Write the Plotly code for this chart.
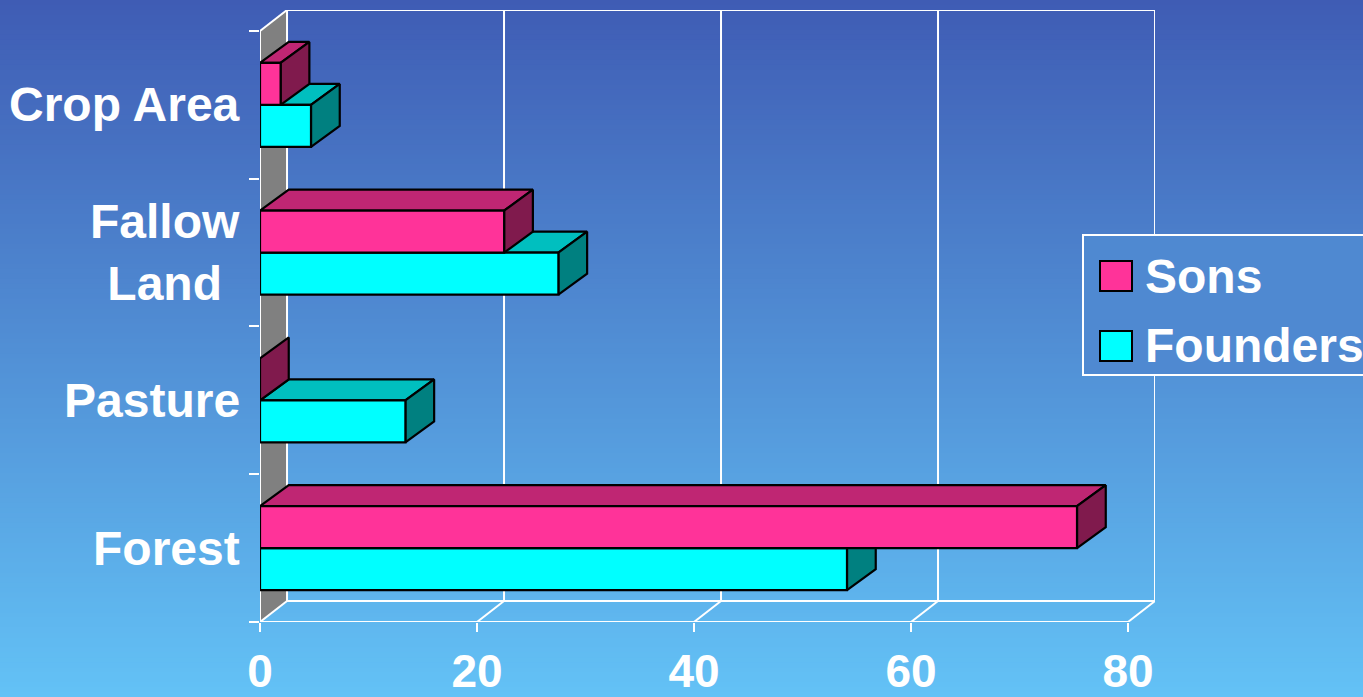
import plotly.graph_objects as go

# ---------------- data ----------------
categories = ["Crop Area", "Fallow<br>Land", "Pasture", "Forest"]   # top -> bottom
sons = [1.9, 22.5, 0.0, 75.3]
founders = [4.7, 27.5, 13.4, 54.1]
x_ticks = [0, 20, 40, 60, 80]
x_tick_labels = ["0", "20", "40", "60", "80"]
series_names = ["Sons", "Founders"]

# ---------------- geometry / style ----------------
W, H = 1363, 697
FONT = "Liberation Sans, Arial, sans-serif"
FS = 48
FS_TICK = 46
X_MAX = 80
WALL_DX = 2.49      # depth offset (x units) of the back wall
DEPTH_DY = 0.142    # depth offset (y units)
BAR_DX = 2.65       # depth offset of bars (x units)
BAR_H = 0.284       # bar thickness (y units)
n = len(categories)
x_range = [0, X_MAX + WALL_DX]
y_range = [0, n + DEPTH_DY]
PX_X0, PX_X80 = 260, 1128
ppu_x = (PX_X80 - PX_X0) / X_MAX
PX_YB, PX_YT = 622, 10
dom_x = [PX_X0 / W, (PX_X0 + x_range[1] * ppu_x) / W]
dom_y = [(H - PX_YB) / H, (H - PX_YT) / H]

SONS_C = dict(front="#FF3399", top="#BF2673", side="#801A4D")
FOUND_C = dict(front="#00FFFF", top="#00BFBF", side="#008080")
TOP_RGB = (63, 92, 180)
BOT_RGB = (99, 194, 246)


def grad(t):
    return "rgb(%d,%d,%d)" % tuple(round(a + (b - a) * t) for a, b in zip(TOP_RGB, BOT_RGB))


fig = go.Figure()

# back/left wall (gray)
fig.add_trace(go.Scatter(
    x=[0, WALL_DX, WALL_DX, 0, 0], y=[0, DEPTH_DY, n + DEPTH_DY, n, 0],
    fill="toself", fillcolor="#808080", mode="lines", line=dict(width=0),
    hoverinfo="skip", showlegend=False))

# white frame / gridlines
lx, ly = [], []
def seg(x0, y0, x1, y1):
    lx.extend([x0, x1, None]); ly.extend([y0, y1, None])

for t in x_ticks:
    seg(t + WALL_DX, DEPTH_DY, t + WALL_DX, n + DEPTH_DY)   # back wall gridline
    seg(t, 0, t + WALL_DX, DEPTH_DY)                         # floor diagonal
seg(WALL_DX, DEPTH_DY, X_MAX + WALL_DX, DEPTH_DY)            # back bottom
seg(WALL_DX, n + DEPTH_DY, X_MAX + WALL_DX, n + DEPTH_DY)    # back top
seg(0, n, WALL_DX, n + DEPTH_DY)                             # top diagonal of wall
seg(0, 0, 0, n)                                              # front vertical axis
seg(0, 0, X_MAX, 0)                                          # front horizontal axis
fig.add_trace(go.Scatter(x=lx, y=ly, mode="lines", line=dict(color="white", width=2),
                         hoverinfo="skip", showlegend=False, connectgaps=False))


def bar(v, y0, colors):
    y1 = y0 + BAR_H
    faces = [
        ("top", [0, v, v + BAR_DX, BAR_DX, 0], [y1, y1, y1 + DEPTH_DY, y1 + DEPTH_DY, y1]),
        ("side", [v, v + BAR_DX, v + BAR_DX, v, v], [y0, y0 + DEPTH_DY, y1 + DEPTH_DY, y1, y0]),
        ("front", [0, v, v, 0, 0], [y0, y0, y1, y1, y0]),
    ]
    for name, xs, ys in faces:
        if name != "side" and v <= 0:
            continue
        fig.add_trace(go.Scatter(x=xs, y=ys, fill="toself", fillcolor=colors[name],
                                 mode="lines", line=dict(color="black", width=2.2),
                                 hoverinfo="skip", showlegend=False))


# draw from bottom category upwards; Founders (lower) first, then Sons
for i in reversed(range(n)):
    c = n - 1 - i + 0.5
    bar(founders[i], c - BAR_H, FOUND_C)
    bar(sons[i], c, SONS_C)

# background gradient strips
shapes = []
N = 140
for k in range(N):
    shapes.append(dict(type="rect", xref="paper", yref="paper", layer="below",
                       x0=0, x1=1, y0=1 - (k + 1) / N - 0.002, y1=1 - k / N,
                       fillcolor=grad((k + 0.5) / N), line=dict(width=0)))

# legend (custom)
LEG = dict(x0=1083, x1=1375, y0=235, y1=375)
shapes.append(dict(type="rect", xref="paper", yref="paper", layer="above",
                   x0=LEG["x0"] / W, x1=LEG["x1"] / W, y0=1 - LEG["y1"] / H, y1=1 - LEG["y0"] / H,
                   fillcolor=grad(305 / H), line=dict(color="white", width=2)))
annotations = []
for name, col, cy in [(series_names[0], SONS_C["front"], 276), (series_names[1], FOUND_C["front"], 346)]:
    shapes.append(dict(type="rect", xref="paper", yref="paper", layer="above",
                       x0=1100 / W, x1=1132 / W, y0=1 - (cy + 15) / H, y1=1 - (cy - 15) / H,
                       fillcolor=col, line=dict(color="black", width=2)))
    annotations.append(dict(xref="paper", yref="paper", x=1143 / W, y=1 - cy / H,
                            xanchor="left", yanchor="middle", text=name, showarrow=False,
                            font=dict(family=FONT, size=FS, color="white", weight="bold")))

# category labels
for i, cat in enumerate(categories):
    annotations.append(dict(xref="x", yref="y", x=0, y=n - 1 - i + 0.5, xshift=-18,
                            xanchor="right", yanchor="middle", align="center",
                            text=cat, showarrow=False,
                            font=dict(family=FONT, size=FS, color="white", weight="bold")))

fig.update_layout(
    width=W, height=H, margin=dict(l=0, r=0, t=0, b=0, autoexpand=False),
    paper_bgcolor=grad(0.5), plot_bgcolor="rgba(0,0,0,0)",
    shapes=shapes, annotations=annotations, showlegend=False,
    xaxis=dict(domain=dom_x, range=x_range, showgrid=False, zeroline=False, showline=False,
               tickvals=x_ticks, ticktext=x_tick_labels, ticks="outside", ticklen=9,
               tickwidth=2, tickcolor="white",
               tickfont=dict(family=FONT, size=FS_TICK, color="white", weight="bold"),
               fixedrange=True),
    yaxis=dict(domain=dom_y, range=y_range, showgrid=False, zeroline=False, showline=False,
               tickvals=list(range(n + 1)), ticks="outside", ticklen=10, tickwidth=2,
               tickcolor="white", showticklabels=False, fixedrange=True),
)

fig.write_html("out.html")
